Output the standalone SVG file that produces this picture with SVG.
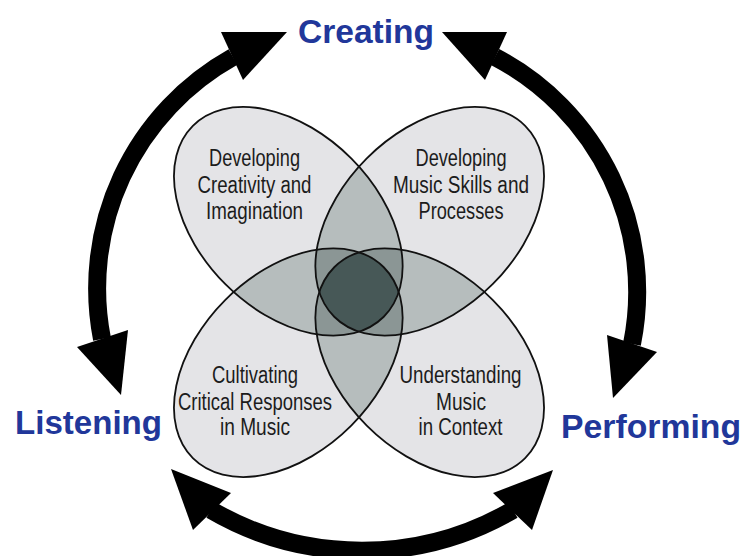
<svg xmlns="http://www.w3.org/2000/svg" width="744" height="556" viewBox="0 0 744 556">
  <style>
    .petal-text { font-family: "Liberation Sans Narrow", "Liberation Sans", Arial, sans-serif; font-size: 23.5px; fill: #1c1c1c; text-anchor: middle; }
    .label { font-family: "Liberation Sans", Arial, sans-serif; font-weight: bold; font-size: 34px; fill: #21379a; }
    .outline { fill: none; stroke: #111; stroke-width: 1.8; }
    .body { fill: none; stroke: #000; stroke-width: 18; stroke-linecap: butt; }
    .head { fill: #000; }
    .c1 { fill: #e4e4e7; }
    .c2 { fill: #b6bdbd; }
    .c3 { fill: #8b9695; }
    .c4 { fill: #475857; }
  </style>
  <defs>
    <ellipse id="eTL" cx="288.3" cy="221.3" rx="135" ry="89" transform="rotate(45 288.3 221.3)"/>
    <ellipse id="eTR" cx="429.7" cy="221.3" rx="135" ry="89" transform="rotate(-45 429.7 221.3)"/>
    <ellipse id="eBL" cx="288.3" cy="362.7" rx="135" ry="89" transform="rotate(-45 288.3 362.7)"/>
    <ellipse id="eBR" cx="429.7" cy="362.7" rx="135" ry="89" transform="rotate(45 429.7 362.7)"/>
    <clipPath id="kTL"><use href="#eTL"/></clipPath>
    <clipPath id="kTR"><use href="#eTR"/></clipPath>
    <clipPath id="kBL"><use href="#eBL"/></clipPath>
    <clipPath id="kBR"><use href="#eBR"/></clipPath>
  </defs>

  <!-- shading of overlaps -->
  <g id="shading">
    <g class="c1">
      <use href="#eTL"/><use href="#eTR"/><use href="#eBL"/><use href="#eBR"/>
    </g>
    <g class="c2">
      <g clip-path="url(#kTR)"><use href="#eTL"/></g>
      <g clip-path="url(#kBL)"><use href="#eTL"/></g>
      <g clip-path="url(#kBR)"><use href="#eTL"/></g>
      <g clip-path="url(#kBL)"><use href="#eTR"/></g>
      <g clip-path="url(#kBR)"><use href="#eTR"/></g>
      <g clip-path="url(#kBR)"><use href="#eBL"/></g>
    </g>
    <g class="c3">
      <g clip-path="url(#kBL)"><g clip-path="url(#kTR)"><use href="#eTL"/></g></g>
      <g clip-path="url(#kBR)"><g clip-path="url(#kTR)"><use href="#eTL"/></g></g>
      <g clip-path="url(#kBR)"><g clip-path="url(#kBL)"><use href="#eTL"/></g></g>
      <g clip-path="url(#kBR)"><g clip-path="url(#kBL)"><use href="#eTR"/></g></g>
    </g>
    <g class="c4">
      <g clip-path="url(#kBR)"><g clip-path="url(#kBL)"><g clip-path="url(#kTR)"><use href="#eTL"/></g></g></g>
    </g>
  </g>

  <g id="petal-creativity">
    <use href="#eTL" class="outline"/>
    <text class="petal-text" x="254.5" y="166" textLength="91" lengthAdjust="spacingAndGlyphs">Developing</text>
    <text class="petal-text" x="254.5" y="193" textLength="114" lengthAdjust="spacingAndGlyphs">Creativity and</text>
    <text class="petal-text" x="254.5" y="219" textLength="97" lengthAdjust="spacingAndGlyphs">Imagination</text>
  </g>
  <g id="petal-skills">
    <use href="#eTR" class="outline"/>
    <text class="petal-text" x="461" y="166" textLength="91" lengthAdjust="spacingAndGlyphs">Developing</text>
    <text class="petal-text" x="461" y="193" textLength="136" lengthAdjust="spacingAndGlyphs">Music Skills and</text>
    <text class="petal-text" x="461" y="219" textLength="85" lengthAdjust="spacingAndGlyphs">Processes</text>
  </g>
  <g id="petal-critical">
    <use href="#eBL" class="outline"/>
    <text class="petal-text" x="255" y="383" textLength="86" lengthAdjust="spacingAndGlyphs">Cultivating</text>
    <text class="petal-text" x="255" y="410" textLength="154" lengthAdjust="spacingAndGlyphs">Critical Responses</text>
    <text class="petal-text" x="255" y="435" textLength="70" lengthAdjust="spacingAndGlyphs">in Music</text>
  </g>
  <g id="petal-context">
    <use href="#eBR" class="outline"/>
    <text class="petal-text" x="460.5" y="383" textLength="122" lengthAdjust="spacingAndGlyphs">Understanding</text>
    <text class="petal-text" x="461" y="410" textLength="50" lengthAdjust="spacingAndGlyphs">Music</text>
    <text class="petal-text" x="460.5" y="435" textLength="84" lengthAdjust="spacingAndGlyphs">in Context</text>
  </g>

  <g id="creating"><text class="label" x="298" y="43" textLength="136" lengthAdjust="spacingAndGlyphs">Creating</text></g>
  <g id="listening"><text class="label" x="15" y="434" textLength="147" lengthAdjust="spacingAndGlyphs">Listening</text></g>
  <g id="performing"><text class="label" x="561" y="438" textLength="180" lengthAdjust="spacingAndGlyphs">Performing</text></g>

  <g id="connectors">
    <path class="body" d="M 233 57 A 265 265 0 0 0 102 339"/>
    <polygon class="head" points="221,32 287,32 243,80"/>
    <polygon class="head" points="77,347 128,330 121,395"/>

    <path class="body" d="M 495 57 A 265 265 0 0 1 632 344"/>
    <polygon class="head" points="507,32 442,32 485,80"/>
    <polygon class="head" points="607,335 657,352 613,398"/>

    <path class="body" d="M 211 510 A 300 300 0 0 0 513 510"/>
    <polygon class="head" points="171,469 231,493 193,530"/>
    <polygon class="head" points="553,470 493,493 532,530"/>
  </g>
</svg>
